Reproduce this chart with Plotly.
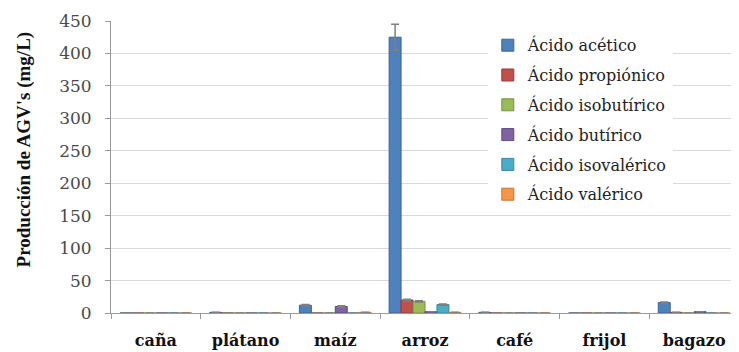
import plotly.graph_objects as go

categories = ["caña", "plátano", "maíz", "arroz", "café", "frijol", "bagazo"]
series_names = ["Ácido acético", "Ácido propiónico", "Ácido isobutírico",
                "Ácido butírico", "Ácido isovalérico", "Ácido valérico"]
acetico = [0, 1, 12, 425, 1, 0, 16]
propionico = [0, 0, 0, 20, 0, 0, 1]
isobutirico = [0, 0, 0, 18, 0, 0, 0]
butirico = [0, 0, 10, 2, 0, 0, 2]
isovalerico = [0, 0, 0, 13, 0, 0, 0]
valerico = [0, 0, 1, 1, 0, 0, 0]
err_acetico = [0, 0, 1, 20, 0, 0, 1]
err_propionico = [0, 0, 0, 1, 0, 0, 0]
err_isobutirico = [0, 0, 0, 1, 0, 0, 0]
err_butirico = [0, 0, 1, 0, 0, 0, 0]
err_isovalerico = [0, 0, 0, 1, 0, 0, 0]
err_valerico = [0, 0, 0, 0, 0, 0, 0]
y_title = "Producción de AGV's (mg/L)"

values = [acetico, propionico, isobutirico, butirico, isovalerico, valerico]
errors = [err_acetico, err_propionico, err_isobutirico, err_butirico, err_isovalerico, err_valerico]
colors = ["#4F81BD", "#C0504D", "#9BBB59", "#8064A2", "#4BACC6", "#F79646"]
lines = ["#3A6596", "#943C3A", "#779244", "#61497E", "#37889E", "#C5762F"]

SERIF = "DejaVu Serif"

fig = go.Figure()
for i, (name, v, e, c, lc) in enumerate(zip(series_names, values, errors, colors, lines)):
    fig.add_trace(go.Bar(
        x=categories, y=v, name=name, legendgroup=f"g{i}",
        marker=dict(color=c, line=dict(color=lc, width=1)),
        error_y=dict(type="data", array=e, visible=True, color="#7f7f7f",
                     thickness=1.5, width=4),
    ))

# page body has an 8px default margin: size the figure to fill the rest
fig.update_layout(
    width=731, height=344,
    margin=dict(l=103, r=0, t=13, b=39),
    paper_bgcolor="white", plot_bgcolor="white",
    barmode="group", bargap=0.2, bargroupgap=0,
    font=dict(family=SERIF, color="#222"),
    legend=dict(x=0.60, y=0.975, xanchor="left", yanchor="top",
                bgcolor="white", borderwidth=0,
                font=dict(family=SERIF, size=16, color="#222"),
                tracegroupgap=6, itemwidth=30),
    showlegend=True,
)
fig.add_annotation(
    text=f"<b>{y_title}</b>", textangle=-90, showarrow=False,
    xref="paper", yref="paper", x=-0.137, y=0.56,
    xanchor="center", yanchor="middle",
    font=dict(family="Liberation Serif", size=19, color="#111"),
)
fig.update_xaxes(
    tickson="boundaries", ticks="outside", ticklen=5, tickcolor="#9a9a9a",
    showline=True, linecolor="#9a9a9a", linewidth=1,
    tickfont=dict(family=SERIF, size=16, color="#111", weight="bold"),
    ticklabelstandoff=13,
)
fig.update_yaxes(
    range=[0, 450], dtick=50, ticks="outside", ticklen=5, tickcolor="#9a9a9a",
    showline=True, linecolor="#9a9a9a", linewidth=1,
    showgrid=True, gridcolor="#d9d9d9", gridwidth=1,
    tickfont=dict(family=SERIF, size=17, color="#4a4a4a"),
    ticklabelstandoff=10,
    zeroline=False,
)

fig.write_html("out.html")
